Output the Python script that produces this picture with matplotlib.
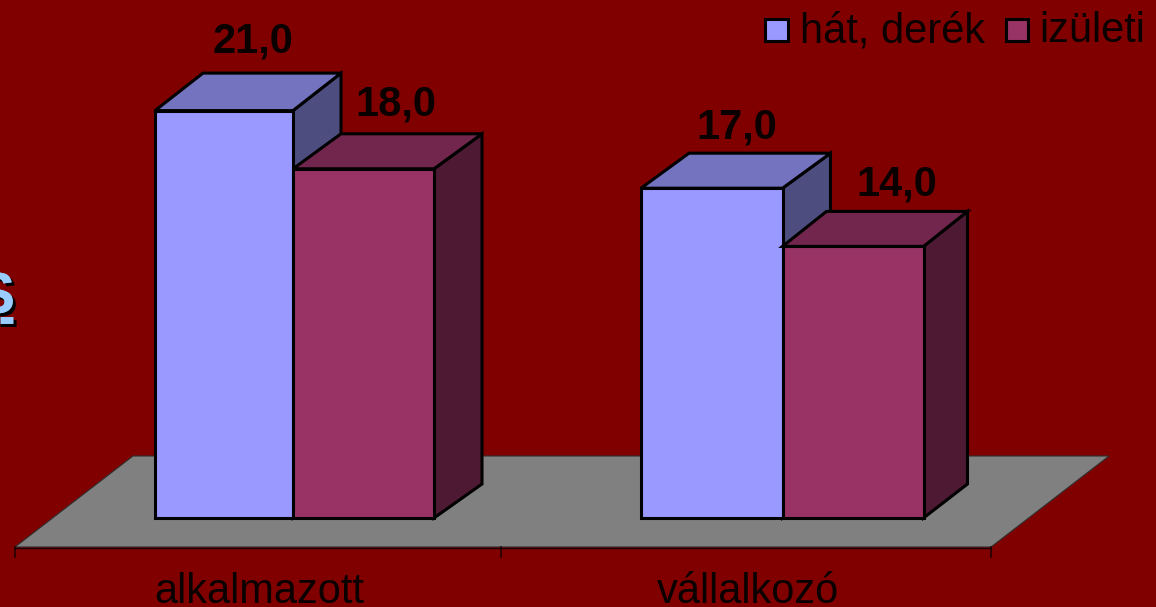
import matplotlib
matplotlib.use("Agg")
import matplotlib.pyplot as plt
import matplotlib.patheffects as pe
from matplotlib.legend_handler import HandlerPatch
from matplotlib.patches import Polygon, Patch, Rectangle

categories = ["alkalmazott", "vállalkozó"]
series_names = ["hát, derék", "izületi"]
hat_derek = [21.0, 17.0]
izuleti = [18.0, 14.0]

W, H = 1156, 607
BG = "#800000"
colors = ["#9999FF", "#993366"]
tops = ["#7373BF", "#73264D"]
sides = ["#4D4D80", "#4D1933"]

# pixels per unit and where zero sits
PX = 19.4
BASE = 518
# 3d depth of the bars
DY_BOTTOM = 34


def yv(pix):
    return (BASE - pix) / PX


def legend_square(legend, orig_handle, xdescent, ydescent, width, height, fontsize):
    return Rectangle((0, 1), 16, 16)


plt.rcParams["font.family"] = ["Liberation Sans", "DejaVu Sans"]
fig = plt.figure(figsize=(W / 100, H / 100), dpi=100, facecolor=BG)
ax = fig.add_axes([0, 0, 1, 1])
ax.set_xlim(0, W)
ax.set_ylim(yv(H), yv(0))
ax.axis("off")

# floor
floor = Polygon([(15, yv(547)), (133, yv(456)), (1109, yv(456)), (991, yv(547))],
                closed=True, facecolor="#808080", edgecolor="#303030", lw=0.8, zorder=1)
ax.add_patch(floor)
ax.plot([15, 991], [yv(547.5), yv(547.5)], color="#200000", lw=1, zorder=2)
for tx in [15, 501, 991]:
    ax.plot([tx, tx], [yv(547), yv(557)], color="#1a0000", lw=1.1, zorder=2)

# bars, hand placed per group like the original
starts = [155, 641]
bar_w = [[138, 141], [141.5, 141]]
top_dx = [[48, 48], [48, 44]]
top_dy = [[37.5, 35], [35, 35]]
lab_dx = [[29, 32.5], [25.5, 44]]
lab_dy = [[21, 18], [15, 16]]
cat_x = [259, 747.5]
z = 3
for g, cat in enumerate(categories):
    left = starts[g]
    for s, vals in enumerate([hat_derek, izuleti]):
        v = vals[g]
        w = bar_w[g][s]
        dx = top_dx[g][s]
        dy = top_dy[g][s] / PX
        dyb = DY_BOTTOM / PX
        edge = dict(edgecolor="black", lw=2.2, joinstyle="miter", zorder=z)
        ax.add_patch(Polygon([(left + w, 0), (left + w + dx, dyb), (left + w + dx, v + dy), (left + w, v)],
                             closed=True, facecolor=sides[s], **edge))
        ax.add_patch(Polygon([(left, v), (left + dx, v + dy), (left + w + dx, v + dy), (left + w, v)],
                             closed=True, facecolor=tops[s], **edge))
        ax.add_patch(Polygon([(left, 0), (left, v), (left + w, v), (left + w, 0)],
                             closed=True, facecolor=colors[s], **edge))
        ax.text(left + w / 2 + lab_dx[g][s], v + dy + lab_dy[g][s] / PX, f"{v:.1f}".replace(".", ","),
                ha="center", va="baseline", fontsize=30, fontweight="bold", color="#0a0000", zorder=10)
        left += w
        z += 1
    ax.text(cat_x[g], yv(603), cat, ha="center", va="baseline",
            fontsize=30, color="#0a0000", zorder=10)

# cut off letter at the left edge
shadow = [pe.withSimplePatchShadow(offset=(2.2, -2.2), shadow_rgbFace="black", alpha=1), pe.Normal()]
ax.text(15, yv(313), "S", ha="right", va="baseline", fontsize=42, fontweight="bold",
        color="#99CCFF", path_effects=shadow, zorder=10)
ax.plot([0, 16], [yv(322.5), yv(322.5)], color="black", lw=5, solid_capstyle="butt", zorder=9)
ax.plot([0, 13], [yv(319.5), yv(319.5)], color="#99CCFF", lw=5, solid_capstyle="butt", zorder=10)

handles = [Patch(facecolor=c, edgecolor="black", lw=2.2) for c in colors]
leg = ax.legend(handles, series_names, ncol=2, frameon=False, loc="upper right",
                bbox_to_anchor=(1.0, 1.0 - 1 / H), fontsize=30, labelcolor="#0a0000",
                handler_map={Patch: HandlerPatch(patch_func=legend_square)},
                handlelength=0.53, handleheight=0.53, handletextpad=0.29, columnspacing=0.5,
                borderaxespad=0, borderpad=0.25)
leg.set_zorder(20)

fig.savefig("out.png", dpi=100, facecolor=BG)
